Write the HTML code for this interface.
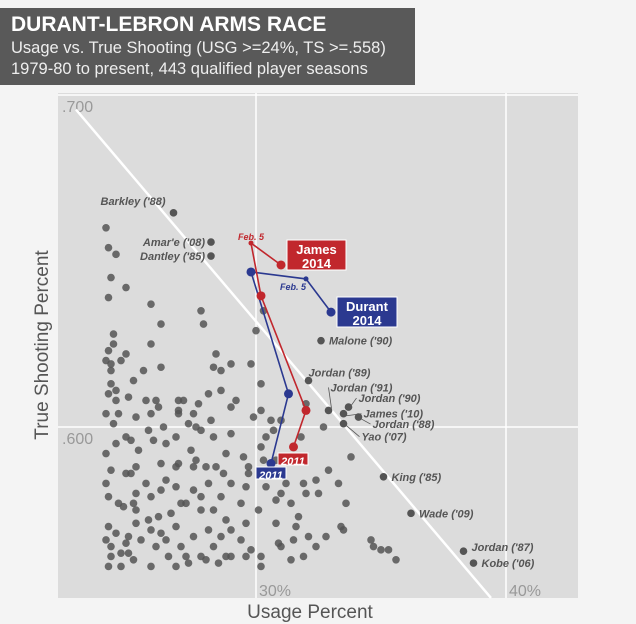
<!DOCTYPE html>
<html><head><meta charset="utf-8"><style>
body{margin:0;background:#f4f4f4;width:636px;height:624px;overflow:hidden;font-family:"Liberation Sans Narrow","Liberation Sans",sans-serif}
</style></head><body>
<svg id="chart" width="636" height="624" xmlns="http://www.w3.org/2000/svg" style="position:absolute;left:0;top:0">
<rect x="0" y="8" width="415" height="77" fill="#595959"/>
<text x="11" y="31" fill="#fff" font-size="21" font-weight="bold">DURANT-LEBRON ARMS RACE</text>
<text x="11" y="53" fill="#eee" font-size="16.5">Usage vs. True Shooting (USG &gt;=24%, TS &gt;=.558)</text>
<text x="11" y="74" fill="#eee" font-size="16.5">1979-80 to present, 443 qualified player seasons</text>
<rect x="58" y="93" width="520" height="505" fill="#dcdcdc"/>
<g id="grid"></g><g id="marks"></g><g id="paths"></g><g id="labels"></g>
<text x="310" y="618" text-anchor="middle" fill="#555" font-size="19">Usage Percent</text>
<text transform="translate(48,345) rotate(-90)" text-anchor="middle" fill="#555" font-size="19">True Shooting Percent</text>
</svg>
<script>
const xTicks=[30,40];
const xTickLabels=["30%","40%"];
const yTicks=[0.7,0.6];
const yTickLabels=[".700",".600"];
const seasons=[[24.0,.660],[24.1,.654],[24.4,.652],[24.2,.645],[24.8,.642],[24.1,.639],[25.8,.637],[27.8,.635],[30.3,.635],[26.2,.631],[27.9,.631],[30.0,.629],[24.3,.628],[24.3,.625],[25.8,.625],[24.1,.623],[24.8,.622],[28.4,.622],[24.0,.620],[24.2,.619],[24.6,.620],[24.2,.617],[25.5,.617],[26.2,.618],[28.3,.618],[29.8,.619],[28.6,.617],[29.0,.619],[25.1,.614],[24.2,.613],[24.4,.611],[24.1,.610],[24.4,.608],[24.9,.609],[25.6,.608],[26.0,.608],[27.1,.608],[24.0,.604],[24.5,.604],[25.2,.603],[25.8,.604],[26.9,.604],[26.1,.606],[26.9,.605],[27.5,.604],[26.9,.608],[29.0,.606],[28.6,.611],[27.7,.607],[28.1,.610],[28.2,.602],[27.6,.600],[26.3,.600],[25.7,.599],[24.3,.601],[24.8,.597],[24.0,.592],[24.4,.595],[25.0,.596],[25.3,.593],[25.9,.596],[26.4,.595],[26.8,.597],[27.3,.601],[27.8,.599],[28.3,.597],[27.4,.593],[27.6,.590],[26.2,.589],[26.9,.589],[25.2,.588],[24.8,.586],[24.2,.587],[24.0,.583],[25.0,.586],[25.2,.580],[25.6,.583],[26.4,.584],[26.8,.588],[27.5,.588],[28.0,.588],[28.4,.588],[28.7,.586],[29.5,.591],[29.7,.588],[28.8,.592],[29.7,.586],[29.6,.582],[29.0,.583],[28.1,.583],[27.5,.581],[26.8,.582],[26.2,.581],[25.8,.579],[25.1,.577],[24.5,.577],[24.1,.579],[24.7,.576],[25.2,.575],[25.7,.572],[26.1,.573],[26.6,.574],[27.0,.577],[27.8,.575],[28.3,.575],[28.6,.579],[27.8,.579],[27.2,.577],[26.8,.570],[26.2,.568],[25.8,.569],[25.2,.571],[24.9,.567],[24.4,.568],[24.1,.570],[24.0,.566],[24.2,.564],[24.6,.562],[24.8,.565],[25.4,.566],[26.0,.564],[26.4,.566],[27.0,.564],[27.5,.567],[28.1,.569],[28.6,.567],[29.0,.569],[29.6,.571],[29.4,.566],[29.0,.561],[28.3,.564],[27.8,.561],[27.2,.561],[26.5,.561],[25.8,.558],[25.1,.560],[24.6,.558],[24.1,.558],[24.2,.561],[24.9,.562],[26.8,.558],[27.3,.559],[28.0,.560],[28.5,.559],[28.8,.561],[29.6,.561],[30.2,.561],[30.2,.558],[29.8,.563],[28.8,.572],[30.1,.575],[29.4,.577],[30.8,.578],[30.4,.582],[30.6,.586],[30.3,.590],[30.2,.594],[30.4,.597],[29.9,.603],[30.6,.602],[31.0,.602],[30.2,.605],[29.2,.608],[30.2,.613],[30.7,.599],[30.8,.590],[29.0,.598],[32.0,.607],[32.7,.600],[31.8,.597],[33.8,.591],[32.9,.587],[32.4,.584],[33.3,.583],[31.9,.583],[31.2,.583],[31.0,.580],[32.0,.580],[33.6,.577],[32.5,.580],[31.4,.577],[31.7,.573],[31.6,.570],[30.8,.571],[32.1,.567],[32.8,.567],[33.4,.570],[33.5,.569],[30.9,.565],[31.5,.566],[31.9,.561],[32.4,.564],[31.0,.564],[31.4,.560],[34.7,.564],[35.0,.563],[35.3,.563],[35.6,.560],[34.6,.566]];
const namedNames=["Barkley ('88)","Amar'e ('08)","Dantley ('85)","Malone ('90)","Jordan ('89)","Jordan ('91)","Jordan ('90)","James ('10)","Jordan ('88)","Yao ('07)","King ('85)","Wade ('09)","Jordan ('87)","Kobe ('06)"];
const namedUsg=[26.7,28.2,28.2,32.6,32.1,32.9,33.7,33.5,34.1,33.5,35.1,36.2,38.3,38.7];
const namedTs=[.6645,.6557,.6515,.626,.614,.605,.606,.604,.603,.601,.585,.574,.5626,.559];
const durantUsg=[30.6,31.3,29.8,32.0,33.0];
const durantTs=[.589,.610,.6467,.6446,.6346];
const jamesUsg=[31.5,32.0,30.2,29.8,31.0];
const jamesTs=[.594,.605,.6395,.6554,.6488];
const trendUsg=[22.8,39.4];
const trendTs=[.6956,.5485];

const X=v=>256+(v-30)*25;
const Y=v=>427-(v-0.6)*3320;
const NS="http://www.w3.org/2000/svg";
function mk(tag,parent,attrs){const e=document.createElementNS(NS,tag);for(const k in attrs)e.setAttribute(k,attrs[k]);document.getElementById(parent).appendChild(e);return e;}

xTicks.forEach((t,i)=>{
 const l=mk('line','grid',{x1:X(t),x2:X(t),y1:93,y2:598,stroke:'#fff','stroke-width':1.5});
 
 
 const tx=mk('text','grid',{x:X(t)+3,y:596,fill:'#999','font-size':16});
 
 
 tx.textContent=xTickLabels[i];
});
yTicks.forEach((t,i)=>{
 const l=mk('line','grid',{x1:58,x2:578,y1:Y(t),y2:Y(t),stroke:'#fff','stroke-width':1.5});
 
 
 const tx=mk('text','grid',{x:62,y:Y(t)+17,fill:'#999','font-size':16});
 
 
 tx.textContent=yTickLabels[i];
});
const tr=mk('line','grid',{x1:X(trendUsg[0]),y1:Y(trendTs[0]),x2:X(trendUsg[1]),y2:Y(trendTs[1]),stroke:'#fff','stroke-width':2.5});



seasons.forEach(s=>{
 const c=mk('circle','marks',{cx:X(s[0]),cy:Y(s[1]),r:3.8,fill:'#555','fill-opacity':0.85});
 
 
});
const labelPos=[[-8,-8,'end',0],[-6,4,'end',0],[-6,4,'end',0],[8,4,'start',0],[0,-4,'start',0],[2,-19,'start',1],[10,-5,'start',1],[20,4,'start',1],[14,11,'start',1],[18,17,'start',1],[8,4,'start',0],[8,4,'start',0],[8,0,'start',0],[8,4,'start',0]];
namedNames.forEach((n,i)=>{
 const cx=X(namedUsg[i]),cy=Y(namedTs[i]);
 const c=mk('circle','marks',{cx:cx,cy:cy,r:3.8,fill:'#555'});
 
 
 const p=labelPos[i];
 if(p[3]){
  const ld=mk('line','labels',{x1:cx+3*Math.sign(p[0]),y1:cy+2*Math.sign(p[1]),x2:cx+p[0]-2,y2:cy+p[1]-4,stroke:'#555','stroke-width':0.8});
  
  
 }
 const t=mk('text','labels',{x:cx+p[0],y:cy+p[1],'text-anchor':p[2],fill:'#555','font-size':11,'font-weight':'bold','font-style':'italic'});
 
 
 t.textContent=n;
});
function series(us,ts,color,name){
 const d=us.map((u,i)=>(i?'L':'M')+X(u)+','+Y(ts[i])).join(' ');
 const p=mk('path','paths',{d:d,fill:'none',stroke:color,'stroke-width':1.6});
 
 
 us.forEach((u,i)=>{
  const c=mk('circle','paths',{cx:X(u),cy:Y(ts[i]),r:i==3?2.5:4.5,fill:color});
  
  
 });
}
series(durantUsg,durantTs,'#2b3990','durant');
series(jamesUsg,jamesTs,'#c1272d','james');
function box(x,y,w,h,color,lines,fs,name){
 const r=mk('rect','labels',{x:x,y:y,width:w,height:h,fill:color,stroke:'#fff','stroke-width':1});
 
 
 lines.forEach((s,i)=>{
  const t=mk('text','labels',{x:x+w/2,y:y+fs+1+i*(fs+1),'text-anchor':'middle',fill:'#fff','font-size':fs,'font-weight':'bold','font-style':lines.length==1?'italic':'normal'});
  
  
  t.textContent=s;
 });
}
box(287,240,59,30,'#c1272d',['James','2014'],13,'james-2014-label');
box(337,297,60,30,'#2b3990',['Durant','2014'],13,'durant-2014-label');
box(278,453,30,12,'#c1272d',['2011'],11,'james-2011-label');
box(256,467,30,12,'#2b3990',['2011'],11,'durant-2011-label');
[[238,240,'#c1272d'],[280,290,'#2b3990']].forEach(a=>{
 const t=mk('text','labels',{x:a[0],y:a[1],fill:a[2],'font-size':9,'font-weight':'bold','font-style':'italic'});
 
 
 t.textContent='Feb. 5';
});
</script>
</body></html>
